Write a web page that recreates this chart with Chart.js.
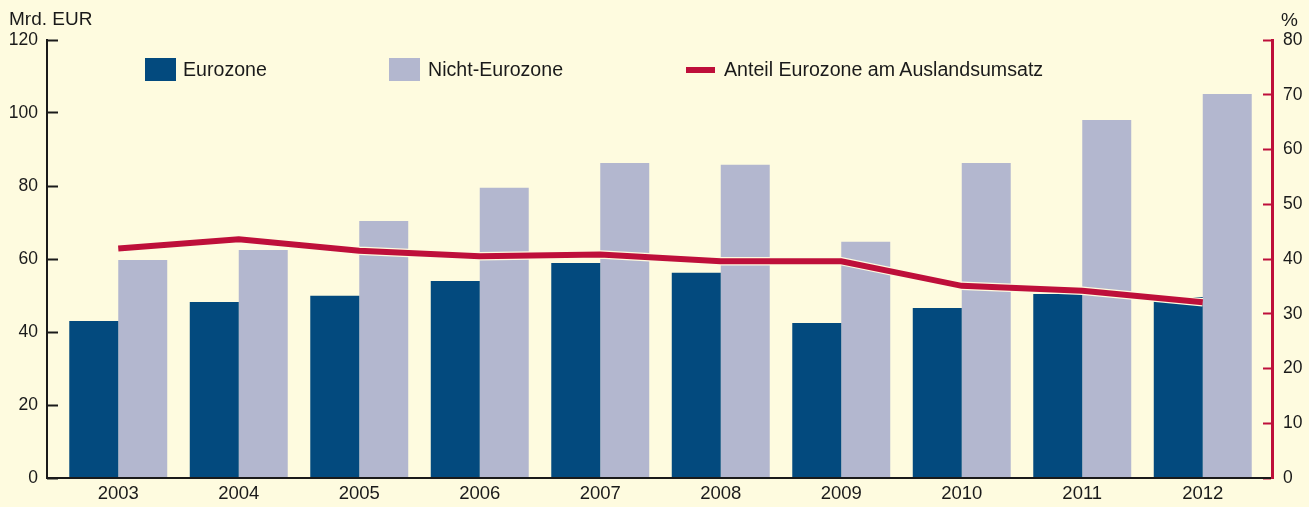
<!DOCTYPE html>
<html>
<head>
<meta charset="utf-8">
<script src="https://cdn.jsdelivr.net/npm/chart.js@4/dist/chart.umd.min.js"></script>
<style>
  html, body { margin: 0; padding: 0; background: #fefbdf; }
  #wrap { position: relative; width: 1309px; height: 507px; background: #fefbdf; overflow: hidden;
          font-family: 'Liberation Sans', Arial, sans-serif; color: #1a1a1a; }
  canvas { position: absolute; left: 0; top: 0; }
  .txt { position: absolute; font-size: 19px; line-height: 19px; white-space: nowrap; }
  .leg { font-size: 19.6px; line-height: 19.6px; }
  .box { position: absolute; }
</style>
</head>
<body>
<div id="wrap">
  <canvas id="c" width="1309" height="507"></canvas>
  <div class="txt" style="left:9px; top:9px;">Mrd. EUR</div>
  <div class="txt" style="left:1281px; top:10px;">%</div>
  <div class="box" style="left:145px; top:58px; width:31px; height:23px; background:#034a7e;"></div>
  <div class="txt leg" style="left:183px; top:60px;">Eurozone</div>
  <div class="box" style="left:389px; top:58px; width:31px; height:23px; background:#b3b7cf;"></div>
  <div class="txt leg" style="left:428px; top:60px;">Nicht-Eurozone</div>
  <div class="box" style="left:686px; top:67px; width:29px; height:6px; background:#be0f3a;"></div>
  <div class="txt leg" style="left:724px; top:60px;">Anteil Eurozone am Auslandsumsatz</div>
</div>
<script>
const categories = ['2003', '2004', '2005', '2006', '2007', '2008', '2009', '2010', '2011', '2012'];
const eurozone = [43.0, 48.2, 49.9, 54.0, 58.9, 56.2, 42.5, 46.6, 50.4, 49.6];
const nichtEurozone = [59.7, 62.5, 70.4, 79.5, 86.3, 85.8, 64.7, 86.3, 98.1, 105.2];
const anteilEurozone = [41.9, 43.6, 41.5, 40.5, 40.8, 39.6, 39.6, 35.1, 34.2, 32.1];
const leftTicks = [0, 20, 40, 60, 80, 100, 120];
const rightTicks = [0, 10, 20, 30, 40, 50, 60, 70, 80];

const BG = '#fefbdf';
const BLUE = '#034a7e';
const LAV = '#b3b7cf';
const RED = '#be0f3a';
const DARK = '#1a1a1a';

Chart.defaults.font.family = "'Liberation Sans', Arial, sans-serif";
Chart.defaults.color = DARK;

const axisLines = {
  id: 'axisLines',
  afterDraw(chart) {
    const { ctx, chartArea: a } = chart;
    ctx.save();
    ctx.lineCap = 'butt';
    ctx.strokeStyle = DARK;
    ctx.lineWidth = 2;
    ctx.beginPath();
    ctx.moveTo(a.left - 11, a.top - 1);
    ctx.lineTo(a.left - 11, a.bottom + 1);
    ctx.stroke();
    ctx.beginPath();
    ctx.moveTo(a.left - 12, a.bottom);
    ctx.lineTo(a.right + 10, a.bottom);
    ctx.stroke();
    ctx.strokeStyle = RED;
    ctx.lineWidth = 3;
    ctx.beginPath();
    ctx.moveTo(a.right + 9.5, a.top - 1);
    ctx.lineTo(a.right + 9.5, a.bottom + 1);
    ctx.stroke();
    ctx.restore();
  }
};

new Chart(document.getElementById('c'), {
  data: {
    labels: categories,
    datasets: [
      { type: 'line', label: 'Anteil Eurozone am Auslandsumsatz', data: anteilEurozone, yAxisID: 'y2',
        borderColor: RED, borderWidth: 6, pointRadius: 0, tension: 0, order: 0, borderCapStyle: 'butt' },
      { type: 'line', label: '_outline', data: anteilEurozone, yAxisID: 'y2',
        borderColor: BG, borderWidth: 8.5, pointRadius: 0, tension: 0, order: 1, borderCapStyle: 'butt' },
      { type: 'bar', label: 'Eurozone', data: eurozone, yAxisID: 'y', backgroundColor: BLUE,
        borderWidth: 0, categoryPercentage: 0.813, barPercentage: 1.0, order: 2 },
      { type: 'bar', label: 'Nicht-Eurozone', data: nichtEurozone, yAxisID: 'y', backgroundColor: LAV,
        borderWidth: 0, categoryPercentage: 0.813, barPercentage: 1.0, order: 2 }
    ]
  },
  options: {
    responsive: false,
    animation: false,
    events: [],
    layout: { padding: { top: 40, left: 0, right: 0, bottom: 0 } },
    plugins: { legend: { display: false }, tooltip: { enabled: false }, title: { display: false } },
    scales: {
      x: {
        type: 'category',
        offset: true,
        grid: { display: false, drawTicks: false },
        border: { display: false },
        ticks: { font: { size: 18.5 }, color: DARK, padding: 5, maxRotation: 0, autoSkip: false },
        afterFit: (s) => { s.height = 29; }
      },
      y: {
        position: 'left',
        min: 0, max: 120,
        afterBuildTicks: (s) => { s.ticks = leftTicks.map(v => ({ value: v })); },
        grid: { drawOnChartArea: false, drawTicks: true, tickLength: 11, tickWidth: 2, tickColor: DARK },
        border: { display: false },
        ticks: { font: { size: 17.5 }, color: DARK, padding: 9 },
        afterFit: (s) => { s.width = 58; }
      },
      y2: {
        position: 'right',
        min: 0, max: 80,
        afterBuildTicks: (s) => { s.ticks = rightTicks.map(v => ({ value: v })); },
        grid: { drawOnChartArea: false, drawTicks: true, tickLength: 8, tickWidth: 2, tickColor: RED },
        border: { display: false },
        ticks: { font: { size: 17.5 }, color: DARK, padding: 12 },
        afterFit: (s) => { s.width = 46; }
      }
    }
  },
  plugins: [axisLines]
});
</script>
</body>
</html>
